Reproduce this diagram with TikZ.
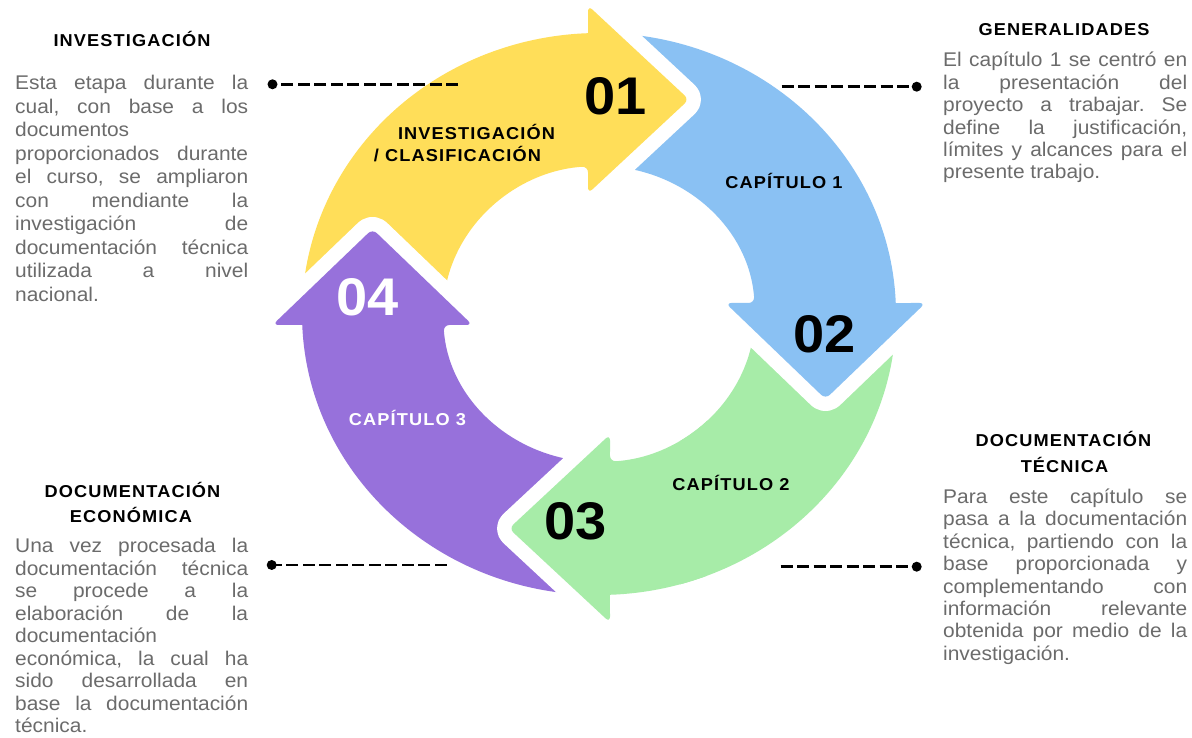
\documentclass[tikz,border=0pt]{standalone}
\usepackage{fontspec}
\setmainfont{Liberation Sans}
\newfontfamily\headfont[FakeStretch=1.057,LetterSpace=6.5]{Liberation Sans}
\newfontfamily\digfont[FakeStretch=1.057]{Liberation Sans}
\newfontfamily\bodyfont[FakeStretch=1.057]{Liberation Sans}
\definecolor{yel}{HTML}{FFDE59}
\definecolor{blu}{HTML}{8AC1F3}
\definecolor{grn}{HTML}{A7ECA8}
\definecolor{pur}{HTML}{9771DB}
\definecolor{bodygray}{HTML}{6B6B6B}
\newdimen\blockw
\newcommand\jline[1]{\hbox to \blockw{\spaceskip=\fontdimen2\font plus 1fil\relax #1}}
\newcommand\lline[1]{\hbox{#1}}
\begin{document}
\begin{tikzpicture}[x=1pt,y=1pt,
  head/.style={font=\headfont\bfseries\fontsize{17.2}{20}\selectfont, inner sep=0, anchor=base},
  digit/.style={font=\digfont\bfseries\fontsize{53}{60}\selectfont, inner sep=0, anchor=base},
  body/.style={font=\bodyfont\fontsize{19.8}{23}\selectfont\frenchspacing, text=bodygray, inner sep=0, anchor=base west},
  halo/.style={preaction={draw=white, line width=29pt, line join=round}},
  haloonly/.style={draw=white, line width=29pt, line join=round},
  dashline/.style={line width=2.6pt, dash pattern=on 12pt off 4.5pt},
  dot/.style={circle, fill=black, inner sep=0, minimum size=10pt},
]
\useasboundingbox (0,0) rectangle (1192,738);

\coordinate (C) at (599,424);
\def\greenshape{(2.24:297pt and 281pt)
   arc[start angle=2.24, end angle=-87.88, x radius=297pt, y radius=281pt]
   [rounded corners=6pt] -- (11,-308.5) -- (-90,-214.5) -- (11,-120.5)
   -- (-85.96:156pt and 148pt) [sharp corners]
   arc[start angle=-85.96, end angle=4.26, x radius=156pt, y radius=148pt] -- cycle}
\begin{scope}[shift={(C)}]
  % green (drawn first, its head is redrawn on top later)
  \path[fill=grn, halo] \greenshape;
  % blue
  \path[fill=blu, halo] (92.12:297pt and 281pt)
   arc[start angle=92.12, end angle=2.24, x radius=297pt, y radius=281pt]
   [rounded corners=6pt] -- (326.5,11) -- (226.5,-85) -- (126.5,11)
   -- (4.26:156pt and 148pt) [sharp corners]
   arc[start angle=4.26, end angle=94.04, x radius=156pt, y radius=148pt] -- cycle;
  % yellow
  \path[fill=yel, halo] (182.24:297pt and 281pt)
   arc[start angle=182.24, end angle=92.12, x radius=297pt, y radius=281pt]
   [rounded corners=6pt] -- (-11,308.5) -- (90,214.5) -- (-11,120.5)
   -- (94.04:156pt and 148pt) [sharp corners]
   arc[start angle=94.04, end angle=184.26, x radius=156pt, y radius=148pt] -- cycle;
  % purple
  \path[fill=pur, halo] (-87.88:297pt and 281pt)
   arc[start angle=-87.88, end angle=-177.76, x radius=297pt, y radius=281pt]
   [rounded corners=6pt] -- (-326.5,-11) -- (-226.5,85) -- (-126.5,-11)
   -- (-175.74:156pt and 148pt) [sharp corners]
   arc[start angle=-175.74, end angle=-85.96, x radius=156pt, y radius=148pt] -- cycle;
  % green head on top of purple tail
  \begin{scope}
    \clip (-700,-700) rectangle (81,700);
    \path[haloonly] \greenshape;
  \end{scope}
  \begin{scope}
    \clip (-700,-700) rectangle (108,700);
    \path[fill=grn] \greenshape;
  \end{scope}
\end{scope}

% numbers
\node[digit] (n1) at (616,623) {01};
\node[digit] (n2) at (825,385) {02};
\node[digit] (n3) at (576,198) {03};
\node[digit, text=white] (n4) at (367.5,422) {04};

% arrow labels
\node[head] (l1a) at (476.5,598) {INVESTIGACIÓN};
\node[head] (l1b) at (457.5,576) {/ CLASIFICACIÓN};
\node[head] (l2) at (784,549) {CAPÍTULO 1};
\node[head] (l3) at (731,247) {CAPÍTULO 2};
\node[head, text=white] (l4) at (407.5,312) {CAPÍTULO 3};

% headings
\node[head] (h1) at (132,691) {INVESTIGACIÓN};
\node[head] (h2) at (1064,702) {GENERALIDADES};
\node[head] (h3a) at (1063.5,291) {DOCUMENTACIÓN};
\node[head] (h3b) at (1064.5,265) {TÉCNICA};
\node[head] (h4a) at (132.5,240) {DOCUMENTACIÓN};
\node[head] (h4b) at (131,215) {ECONÓMICA};

% body texts
\node[body] (txtInv) at (15,648) {\vtop{\blockw=233pt\baselineskip=23.5pt
  \jline{Esta etapa durante la}
  \jline{cual, con base a los}
  \lline{documentos}
  \jline{proporcionados durante}
  \jline{el curso, se ampliaron}
  \jline{con mendiante la}
  \jline{investigación de}
  \jline{documentación técnica}
  \jline{utilizada a nivel}
  \lline{nacional.}}};
\node[body] (txtGen) at (943,671) {\vtop{\blockw=244pt\baselineskip=22.4pt
  \jline{El capítulo 1 se centró en}
  \jline{la presentación del}
  \jline{proyecto a trabajar. Se}
  \jline{define la justificación,}
  \jline{límites y alcances para el}
  \lline{presente trabajo.}}};
\node[body] (txtTec) at (943,234.7) {\vtop{\blockw=244pt\baselineskip=22.45pt
  \jline{Para este capítulo se}
  \jline{pasa a la documentación}
  \jline{técnica, partiendo con la}
  \jline{base proporcionada y}
  \jline{complementando con}
  \jline{información relevante}
  \jline{obtenida por medio de la}
  \lline{investigación.}}};
\node[body] (txtEco) at (15,185) {\vtop{\blockw=233pt\baselineskip=22.5pt
  \jline{Una vez procesada la}
  \jline{documentación técnica}
  \jline{se procede a la}
  \jline{elaboración de la}
  \lline{documentación}
  \jline{económica, la cual ha}
  \jline{sido desarrollada en}
  \jline{base la documentación}
  \lline{técnica.}}};

% dashed leaders
\node[dot] (d1) at (272.5,653.7) {};
\coordinate (e1) at (458,653.7);
\node[dot] (d2) at (916.7,651.3) {};
\coordinate (e2) at (781.5,651.3);
\node[dot] (d3) at (916.7,171.3) {};
\coordinate (e3) at (780.7,171.3);
\node[dot] (d4) at (271.7,173) {};
\coordinate (e4) at (446.7,173);
\draw[dashline] (e1) -- (d1.center);
\draw[dashline] (e2) -- (d2.center);
\draw[dashline] (e3) -- (d3.center);
\draw[dashline] (e4) -- (d4.center);
\end{tikzpicture}
\end{document}
